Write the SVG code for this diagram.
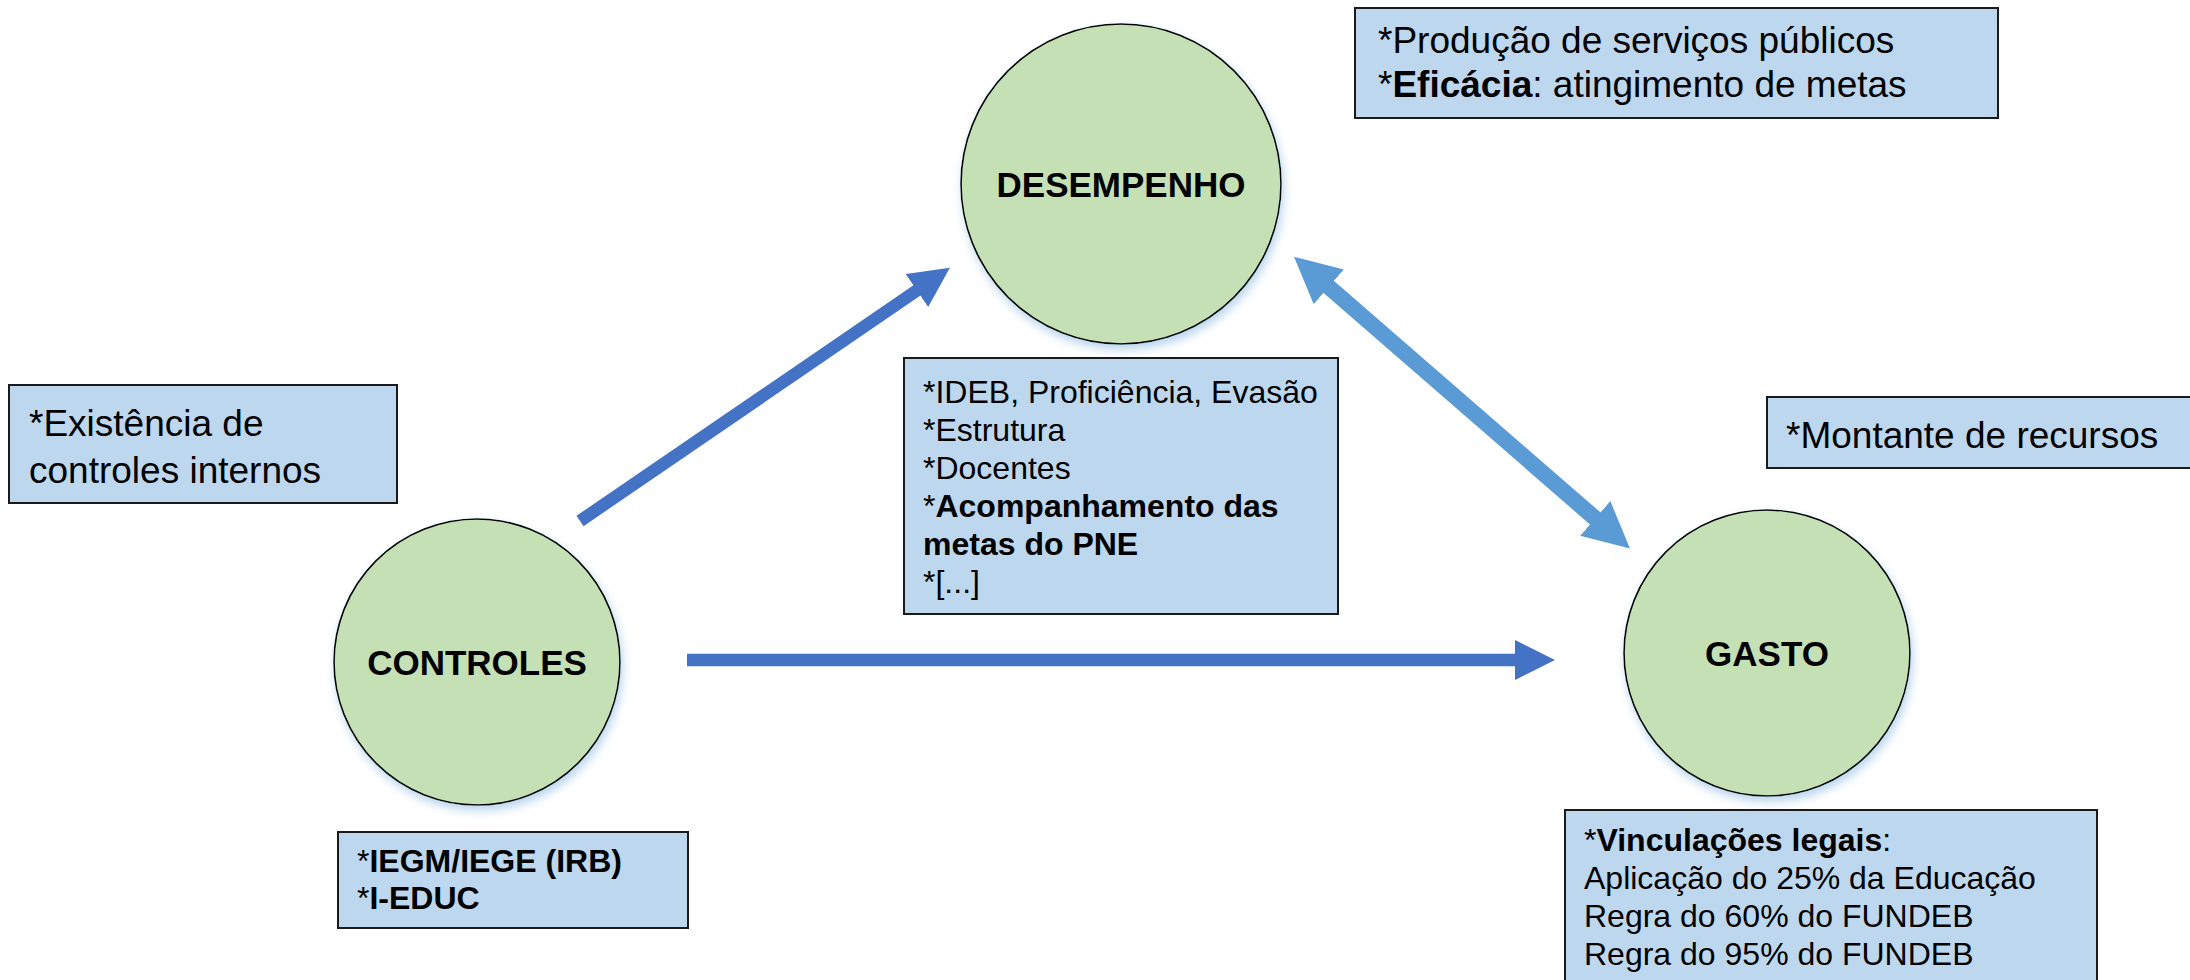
<svg xmlns="http://www.w3.org/2000/svg" width="2190" height="980" viewBox="0 0 2190 980">
<defs>
<style>
text{font-family:"Liberation Sans",Arial,sans-serif;fill:#000}
.note{font-size:37px}
.list{font-size:32px}
.title{font-size:35px;font-weight:bold;text-anchor:middle}
.b{font-weight:bold}
.circle{fill:#C5E0B4;stroke:#000;stroke-width:1.6;filter:url(#glow)}
.box{fill:#BDD7EE;stroke:#1A1A1A;stroke-width:2}
.dark{stroke:#4472C4;stroke-width:12.5;fill:none}
.light{stroke:#5B9BD5;stroke-width:16;fill:none}
</style>
<filter id="glow" x="-20%" y="-20%" width="140%" height="150%">
<feDropShadow dx="2" dy="5" stdDeviation="5" flood-color="#9DC3E6" flood-opacity="0.7"/>
</filter>
<marker id="headDark" markerUnits="userSpaceOnUse" viewBox="0 0 40 40" markerWidth="40" markerHeight="40" refX="1" refY="20" orient="auto">
<path d="M0,0 L40,20 L0,40 Z" fill="#4472C4"/>
</marker>
<marker id="headLight" markerUnits="userSpaceOnUse" viewBox="0 0 46 46" markerWidth="46" markerHeight="46" refX="1" refY="23" orient="auto-start-reverse">
<path d="M0,0 L46,23 L0,46 Z" fill="#5B9BD5"/>
</marker>
</defs>
<rect width="2190" height="980" fill="#FFFFFF"/>

<g id="connectors">
<line class="dark" x1="580" y1="521" x2="917.7" y2="289.9" marker-end="url(#headDark)"/>
<line class="dark" x1="687" y1="660" x2="1516" y2="660" marker-end="url(#headDark)"/>
<line class="light" x1="1328" y1="286.2" x2="1596" y2="519.1" marker-start="url(#headLight)" marker-end="url(#headLight)"/>
</g>

<g id="desempenho">
<circle class="circle" cx="1121" cy="184" r="160"/>
<text class="title" x="1121" y="197">DESEMPENHO</text>
</g>

<g id="controles">
<circle class="circle" cx="477" cy="662" r="143"/>
<text class="title" x="477" y="675">CONTROLES</text>
</g>

<g id="gasto">
<circle class="circle" cx="1767" cy="653" r="143"/>
<text class="title" x="1767" y="666">GASTO</text>
</g>

<g id="note-desempenho">
<rect class="box" x="1355" y="8" width="643" height="110"/>
<text class="note" x="1378" y="53">*Produção de serviços públicos</text>
<text class="note" x="1378" y="97">*<tspan class="b">Eficácia</tspan>: atingimento de metas</text>
</g>

<g id="note-controles">
<rect class="box" x="9" y="385" width="388" height="118"/>
<text class="note" x="29" y="436">*Existência de</text>
<text class="note" x="29" y="483">controles internos</text>
</g>

<g id="note-gasto">
<rect class="box" x="1767" y="397" width="430" height="71"/>
<text class="note" x="1786" y="448">*Montante de recursos</text>
</g>

<g id="list-desempenho">
<rect class="box" x="904" y="358" width="434" height="256"/>
<text class="list" x="923" y="403">*IDEB, Proficiência, Evasão</text>
<text class="list" x="923" y="441">*Estrutura</text>
<text class="list" x="923" y="479">*Docentes</text>
<text class="list" x="923" y="517">*<tspan class="b">Acompanhamento das</tspan></text>
<text class="list b" x="923" y="555">metas do PNE</text>
<text class="list" x="923" y="593">*[...]</text>
</g>

<g id="list-controles">
<rect class="box" x="338" y="832" width="350" height="96"/>
<text class="list" x="357" y="872">*<tspan class="b">IEGM/IEGE (IRB)</tspan></text>
<text class="list" x="357" y="909">*<tspan class="b">I-EDUC</tspan></text>
</g>

<g id="list-gasto">
<rect class="box" x="1565" y="810" width="532" height="180"/>
<text class="list" x="1584" y="851">*<tspan class="b">Vinculações legais</tspan>:</text>
<text class="list" x="1584" y="889">Aplicação do 25% da Educação</text>
<text class="list" x="1584" y="927">Regra do 60% do FUNDEB</text>
<text class="list" x="1584" y="965">Regra do 95% do FUNDEB</text>
</g>
</svg>
